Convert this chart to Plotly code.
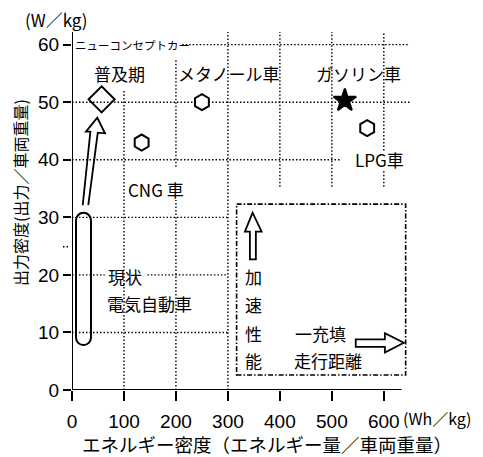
import plotly.graph_objects as go

# ---- data ----
vehicles = ["普及期", "CNG車", "メタノール車", "ガソリン車", "LPG車"]
energy_density = [57, 134, 250, 525, 568]      # Wh/kg
power_density = [50.5, 43, 50, 50.3, 45.5]     # W/kg
x_ticks = [0, 100, 200, 300, 400, 500, 600]
y_ticks = [0, 10, 20, 30, 40, 50, 60]

# ---- styles ----
JP = "Noto Sans CJK JP"
NUM = "Liberation Sans Narrow, Arial Narrow, Liberation Sans, Arial"
symbols = ["diamond-open", "hexagon", "hexagon", "star", "hexagon"]
sizes = [20, 16, 16, 17, 16]
fills = ["black", "white", "white", "black", "white"]

X_MAX, Y_MAX = 660, 62.2
# page body has an 8px margin: the figure is placed at (8, 8) on screen
OFF = 8
L, R, T, B = 72, 68, 32, 67           # plot-area edges in screen pixels
W, H = 483, 457

fig = go.Figure()

shapes = []
DOT = "1.5px,2px"

def dotted(x0, y0, x1, y1):
    shapes.append(dict(type="line", xref="x", yref="y", x0=x0, y0=y0, x1=x1, y1=y1,
                       line=dict(color="black", width=1.4, dash=DOT), layer="below"))

# vertical grid segments
dotted(100, 0, 100, 52)
dotted(200, 0, 200, 33)
dotted(200, 38.8, 200, 57.4)
dotted(300, 0, 300, 62.2)
for xv in (400, 500):
    dotted(xv, 35.3, xv, 62.2)
dotted(600, 35.3, 600, 38.0)
dotted(600, 41.6, 600, 62.2)
# horizontal grid segments
dotted(212, 60, 650, 60)
dotted(0, 50, 650, 50)
dotted(0, 40, 515, 40)
dotted(0, 30, 300, 30)
dotted(0, 20, 63, 20)
dotted(145, 20, 300, 20)
dotted(0, 10, 300, 10)

pw, ph = W - L - R, H - T - B

# small dotted mark left of axis (~25)
shapes.append(dict(type="line", xref="paper", yref="y", x0=-9 / pw, x1=-2 / pw, y0=24.9, y1=24.9,
                   line=dict(color="black", width=1.4, dash=DOT)))

# axis lines
shapes.append(dict(type="line", xref="x", yref="y", x0=0, y0=0, x1=634, y1=0,
                   line=dict(color="black", width=2)))
shapes.append(dict(type="line", xref="x", yref="y", x0=0, y0=0, x1=0, y1=62.2,
                   line=dict(color="black", width=2)))

# capsule (current EV)
cl, cr, ct, cb = 7.7, 36.5, 30.8, 7.8
hw = (cr - cl) / 2
cx = (cl + cr) / 2
ry = 1.3
k = 0.5523
ty, by = ct - ry, cb + ry
path = (f"M{cl},{by} L{cl},{ty} "
        f"C{cl},{ty + k * ry} {cx - k * hw},{ct} {cx},{ct} "
        f"C{cx + k * hw},{ct} {cr},{ty + k * ry} {cr},{ty} "
        f"L{cr},{by} "
        f"C{cr},{by - k * ry} {cx + k * hw},{cb} {cx},{cb} "
        f"C{cx - k * hw},{cb} {cl},{by - k * ry} {cl},{by} Z")
shapes.append(dict(type="path", xref="x", yref="y", path=path,
                   line=dict(color="black", width=2)))

# hollow arrow from capsule up to diamond
arrow1 = [(20.6, 32.1), (35.4, 44.9), (26.9, 44.9), (48.7, 47.3),
          (63.5, 44.6), (49.6, 44.7), (31.3, 32.1)]
shapes.append(dict(type="path", xref="x", yref="y",
                   path="M" + " L".join(f"{a},{b}" for a, b in arrow1),
                   line=dict(color="black", width=1.8)))

# legend box
shapes.append(dict(type="rect", xref="x", yref="y", x0=316.7, x1=642, y0=2.6, y1=32.3,
                   line=dict(color="black", width=1.6, dash="5px,2px,1.5px,2px")))
# up arrow (acceleration)
up = [(342.3, 22.7), (342.3, 27.5), (332.7, 27.5), (347.5, 30.8),
      (364.8, 27.5), (353.8, 27.5), (353.8, 22.7)]
shapes.append(dict(type="path", xref="x", yref="y",
                   path="M" + " L".join(f"{a},{b}" for a, b in up) + " Z",
                   line=dict(color="black", width=1.8)))
# right arrow (range)
rt = [(546, 7.5), (602, 7.5), (602, 6.5), (638.5, 8.2),
      (602, 9.85), (602, 8.8), (546, 8.8)]
shapes.append(dict(type="path", xref="x", yref="y",
                   path="M" + " L".join(f"{a},{b}" for a, b in rt) + " Z",
                   line=dict(color="black", width=1.8)))

# markers
fig.add_trace(go.Scatter(
    x=energy_density, y=power_density, mode="markers",
    marker=dict(symbol=symbols, size=sizes, color=fills, opacity=1,
                line=dict(color="black", width=2)),
    hoverinfo="skip", showlegend=False, cliponaxis=False))

ann = []
def label(text, x, y, size=17, xanchor="center", font=JP):
    ann.append(dict(text=text, x=x, y=y, xref="x", yref="y", showarrow=False,
                    xanchor=xanchor, yanchor="middle",
                    font=dict(family=font, size=size, color="black")))

label("ニューコンセプトカー", 2, 60, size=11.5, xanchor="left")
label("普及期", 92, 55)
label("メタノール車", 302, 55)
label("ガソリン車", 552, 55)
label("LPG車", 592, 40)
label("CNG 車", 162, 34.8)
label("現状", 102, 19.8)
label("電気自動車", 150, 15)
for ch, yy in zip("加速性能", [19.7, 14.8, 9.9, 5.2]):
    label(ch, 350, yy)
label("一充填", 479, 9.9)
label("走行距離", 492, 5.2)

def paper_ann(text, px, py, size, angle=0, xanchor="center"):
    ann.append(dict(text=text, x=(px - L) / pw, y=(H - B - py) / ph, xref="paper", yref="paper",
                    showarrow=False, xanchor=xanchor, yanchor="middle", textangle=angle,
                    font=dict(family=JP, size=size, color="black")))

paper_ann("(W／kg)", 23, 20, 17, xanchor="left")
paper_ann("(Wh／kg)", 437, 418, 16)
paper_ann("エネルギー密度（エネルギー量／車両重量）", 80, 444, 18.5, xanchor="left")
paper_ann("出力密度(出力／車両重量)", 20, 193, 16, angle=-90)

fig.update_layout(
    width=W - OFF, height=H - OFF,
    margin=dict(l=L - OFF, r=R, t=T - OFF, b=B, autoexpand=False),
    plot_bgcolor="white", paper_bgcolor="white",
    shapes=shapes, annotations=ann,
    xaxis=dict(range=[0, X_MAX], tickvals=x_ticks, showgrid=False, zeroline=False,
               showline=False, ticks="outside", ticklen=10, tickwidth=1.5, tickcolor="black",
               tickfont=dict(family=NUM, size=19, color="black"), ticklabelstandoff=4),
    yaxis=dict(range=[0, Y_MAX], tickvals=y_ticks, showgrid=False, zeroline=False,
               showline=False, ticks="outside", ticklen=8, tickwidth=1.5, tickcolor="black",
               tickfont=dict(family=NUM, size=19, color="black")),
)

fig.write_html("out.html")
